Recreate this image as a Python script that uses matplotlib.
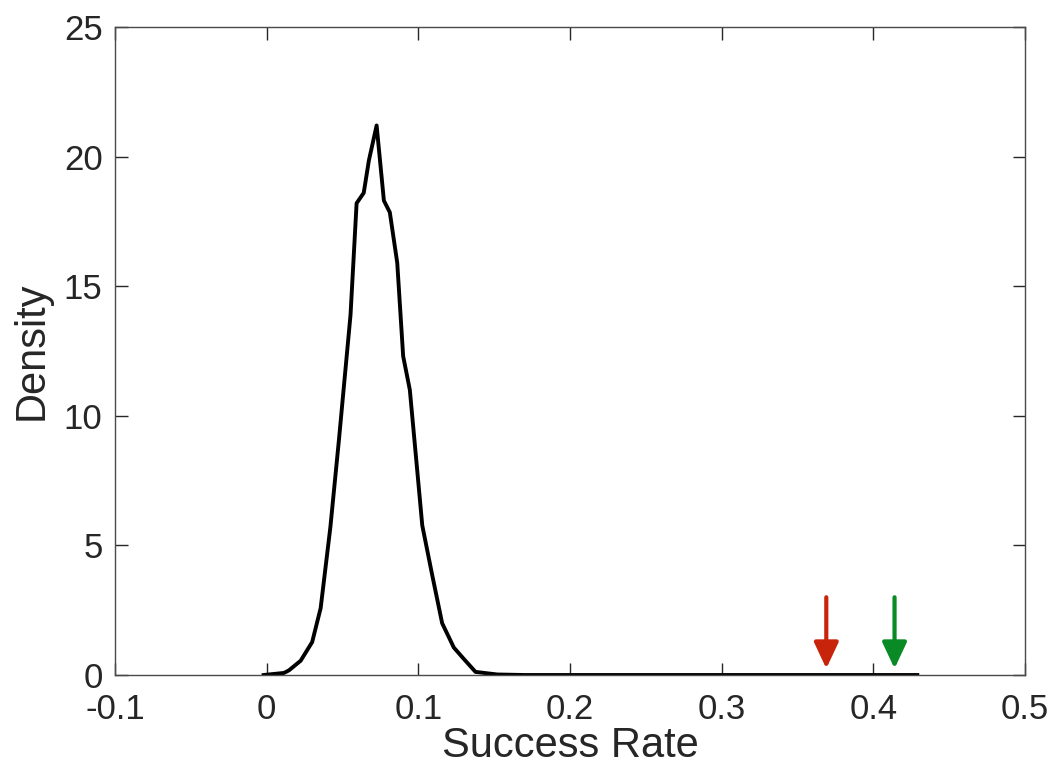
import matplotlib.pyplot as plt
import numpy as np

plt.rcParams["font.family"] = ["Liberation Sans", "DejaVu Sans"]

# density curve
rate = [-0.002, 0.0114, 0.0147, 0.0224, 0.030, 0.0356, 0.042, 0.0477, 0.0553,
        0.0593, 0.064, 0.0674, 0.0725, 0.0773, 0.0812, 0.0861, 0.090, 0.0944,
        0.1026, 0.109, 0.1157, 0.1234, 0.130, 0.1377, 0.152, 0.17, 0.25, 0.35, 0.429]
density = [0.0, 0.08, 0.18, 0.55, 1.27, 2.58, 5.7, 9.1, 13.9,
           18.2, 18.6, 19.85, 21.2, 18.3, 17.85, 15.9, 12.3, 11.0,
           5.77, 3.9, 2.0, 1.06, 0.62, 0.12, 0.02, 0.0, 0.0, 0.0, 0.0]

# marker arrows
arrow_x = [0.369, 0.414]
arrow_colors = ["#c8240c", "#0a8a24"]

xticks = [-0.1, 0, 0.1, 0.2, 0.3, 0.4, 0.5]
xticklabels = ["-0.1", "0", "0.1", "0.2", "0.3", "0.4", "0.5"]
yticks = [0, 5, 10, 15, 20, 25]

fig = plt.figure(figsize=(10.57, 7.71), dpi=100)
ax = fig.add_axes([0.1088, 0.1245, 0.8609, 0.8405])

ax.plot(rate, density, color="black", linewidth=2.8)

for x, c in zip(arrow_x, arrow_colors):
    ax.annotate("", xy=(x, 0.25), xytext=(x, 3.0),
                arrowprops=dict(arrowstyle="-|>,head_length=1.6,head_width=0.75",
                                color=c, lw=3, shrinkA=0, shrinkB=0))

ax.set_xlim(-0.1, 0.5)
ax.set_ylim(0, 25)
ax.set_xticks(xticks)
ax.set_xticklabels(xticklabels)
ax.set_yticks(yticks)
ax.tick_params(direction="in", length=9, width=1, colors="#262626",
               labelsize=25, top=True, right=True)
ax.tick_params(axis="x", pad=13)
ax.tick_params(axis="y", pad=9)
for s in ax.spines.values():
    s.set_color("#4a4a4a")
    s.set_linewidth(1)

ax.set_xlabel("Success Rate", fontsize=30, color="#262626", labelpad=0)
ax.set_ylabel("Density", fontsize=30, color="#262626", labelpad=9)

fig.savefig("out.png", dpi=100)
